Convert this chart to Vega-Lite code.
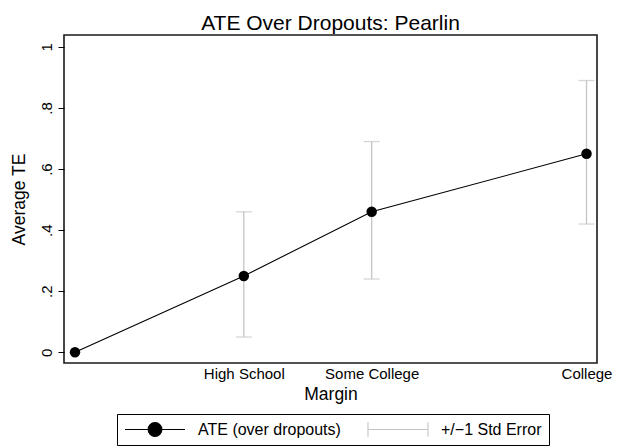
{
  "$schema": "https://vega.github.io/schema/vega-lite/v6.json",
  "width": 533,
  "height": 328,
  "autosize": {"type": "none"},
  "padding": {"left": 64, "top": 35, "right": 32, "bottom": 85},
  "background": "white",
  "title": {"text": "ATE Over Dropouts: Pearlin", "fontSize": 21, "fontWeight": "normal", "font": "Liberation Sans", "color": "black", "anchor": "middle", "offset": 1},
  "config": {
    "view": {"stroke": "#1a1a1a", "strokeWidth": 1.6},
    "font": "Liberation Sans"
  },
  "data": {
    "values": [
      {"level": "Dropout", "x": 0, "ate": 0, "lo": null, "hi": null},
      {"level": "High School", "x": 0.33, "ate": 0.25, "lo": 0.05, "hi": 0.46},
      {"level": "Some College", "x": 0.58, "ate": 0.46, "lo": 0.24, "hi": 0.69},
      {"level": "College", "x": 1, "ate": 0.65, "lo": 0.42, "hi": 0.89}
    ]
  },
  "encoding": {
    "x": {
      "field": "x", "type": "quantitative", "title": "Margin",
      "scale": {"domain": [-0.0215, 1.0205], "nice": false, "zero": false},
      "axis": {
        "values": [0.33, 0.58, 1],
        "labelExpr": "datum.value == 1 ? 'College' : datum.value < 0.45 ? 'High School' : 'Some College'",
        "ticks": false, "domain": false, "grid": false,
        "labelFlush": false, "labelOverlap": false,
        "labelFontSize": 15, "labelColor": "black", "labelPadding": 3,
        "titleFontSize": 17.5, "titleFontWeight": "normal", "titleColor": "black", "titlePadding": 4
      }
    }
  },
  "layer": [
    {
      "mark": {"type": "rule", "strokeWidth": 1.3},
      "encoding": {
        "y": {"field": "lo", "type": "quantitative", "title": "Average TE",
          "scale": {"domain": [-0.035, 1.039], "nice": false, "zero": false},
          "axis": {
            "values": [0, 0.2, 0.4, 0.6, 0.8, 1],
            "labelExpr": "datum.value > 0 && datum.value < 1 ? slice(format(datum.value, '.1f'), 1) : format(datum.value, 'd')",
            "labelAngle": 270, "domain": false, "grid": false,
            "tickSize": 6, "tickColor": "black", "tickWidth": 1,
            "labelFontSize": 15, "labelColor": "black", "labelPadding": 4,
            "titleFontSize": 17.5, "titleFontWeight": "normal", "titleColor": "black", "titlePadding": 11
          }
        },
        "y2": {"field": "hi"},
        "color": {
          "datum": "+/−1 Std Error", "type": "nominal",
          "scale": {"domain": ["ATE (over dropouts)", "+/−1 Std Error"], "range": ["black", "#c4c4c4"]},
          "legend": {
            "orient": "none", "legendX": 53, "legendY": 379, "direction": "horizontal", "title": null,
            "strokeColor": "black", "padding": 7,
            "symbolSize": 3600, "clipHeight": 17,
            "labelFontSize": 16, "labelColor": "black", "labelOffset": 12, "columnPadding": 26,
            "encode": {
              "symbols": {
                "update": {
                  "shape": {"signal": "datum.value === 'ATE (over dropouts)' ? 'M-1,0H1M-0.23,0A0.23,0.23,0,1,1,0.23,0A0.23,0.23,0,1,1,-0.23,0Z' : 'M-1,-0.24V0.24M-1,0H1M1,-0.24V0.24'"},
                  "fill": {"signal": "datum.value === 'ATE (over dropouts)' ? 'black' : 'transparent'"},
                  "stroke": {"signal": "datum.value === 'ATE (over dropouts)' ? 'black' : '#c4c4c4'"},
                  "strokeWidth": {"value": 1.1},
                  "opacity": {"value": 1},
                  "size": {"value": 3600}
                }
              }
            }
          }
        }
      }
    },
    {
      "mark": {"type": "tick", "orient": "horizontal", "size": 16, "thickness": 1.3, "color": "#c4c4c4"},
      "encoding": {
        "y": {"field": "hi", "type": "quantitative", "title": "Average TE",
          "scale": {"domain": [-0.035, 1.039], "nice": false, "zero": false}}
      }
    },
    {
      "mark": {"type": "tick", "orient": "horizontal", "size": 16, "thickness": 1.3, "color": "#c4c4c4"},
      "encoding": {
        "y": {"field": "lo", "type": "quantitative", "title": "Average TE",
          "scale": {"domain": [-0.035, 1.039], "nice": false, "zero": false}}
      }
    },
    {
      "mark": {"type": "line", "strokeWidth": 1.1},
      "encoding": {
        "y": {"field": "ate", "type": "quantitative", "title": "Average TE",
          "scale": {"domain": [-0.035, 1.039], "nice": false, "zero": false}},
        "color": {"datum": "ATE (over dropouts)", "type": "nominal"}
      }
    },
    {
      "mark": {"type": "point", "filled": true, "size": 110, "color": "black", "opacity": 1},
      "encoding": {
        "y": {"field": "ate", "type": "quantitative", "title": "Average TE",
          "scale": {"domain": [-0.035, 1.039], "nice": false, "zero": false}}
      }
    }
  ]
}
